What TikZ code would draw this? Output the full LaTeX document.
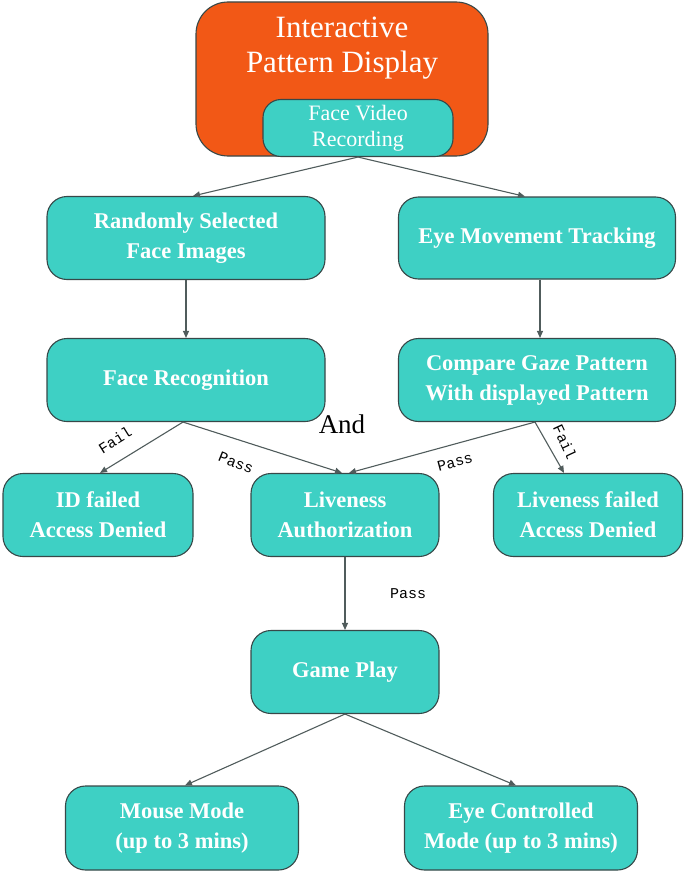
\documentclass[tikz,border=0pt]{standalone}
\usepackage{fontspec}
\setmainfont{Liberation Serif}
\newfontfamily\lblfont{Liberation Mono}
\usetikzlibrary{arrows.meta}
\definecolor{orangebox}{RGB}{242,88,22}
\definecolor{tealbox}{RGB}{62,208,196}
\definecolor{edgegray}{RGB}{55,72,72}
\definecolor{linegray}{RGB}{80,92,92}
\tikzset{
  box/.style={draw=edgegray, line width=1.1pt, fill=tealbox, rounded corners=20pt,
    align=center, text=white, font=\fontsize{22.5}{30}\selectfont\bfseries, inner sep=0pt},
  conn/.style={draw=linegray, line width=1.1pt, -{Triangle[length=7pt,width=6pt]}},
  lbl/.style={font=\lblfont\fontsize{15}{17}\selectfont, text=black, inner sep=0pt}
}
\begin{document}
\begin{tikzpicture}[x=1pt,y=-1pt]
\useasboundingbox (0,0) rectangle (685,875);
% top box
\node[draw=edgegray, line width=1.1pt, fill=orangebox, rounded corners=32pt,
  minimum width=292pt, minimum height=154pt, inner sep=0pt] (ipd) at (342,79) {};
\node[text=white, align=center, font=\fontsize{31}{35}\selectfont, inner sep=0pt] (ipdtext) at (342,48) {Interactive\\Pattern Display};
\node[box, font=\fontsize{22}{26}\selectfont, rounded corners=18pt,
  minimum width=190pt, minimum height=57pt] (fvr) at (358,128) {Face Video\\Recording};
% row 2
\node[box, minimum width=278pt, minimum height=83pt] (rs) at (186,238) {Randomly Selected\\Face Images};
\node[box, minimum width=277pt, minimum height=82pt] (emt) at (537,238) {Eye Movement Tracking};
% row 3
\node[box, minimum width=278pt, minimum height=83pt] (fr) at (186,380) {Face Recognition};
\node[box, minimum width=277pt, minimum height=83pt] (cg) at (537,380) {Compare Gaze Pattern\\With displayed Pattern};
% row 4
\node[box, minimum width=190pt, minimum height=83pt] (idf) at (98,515) {ID failed\\Access Denied};
\node[box, minimum width=188pt, minimum height=83pt] (la) at (345,515) {Liveness\\Authorization};
\node[box, minimum width=189pt, minimum height=83pt] (lf) at (588,515) {Liveness failed\\Access Denied};
% row 5
\node[box, minimum width=188pt, minimum height=83pt] (gp) at (345,672) {Game Play};
% row 6
\node[box, minimum width=233pt, minimum height=84pt] (mm) at (182,828) {Mouse Mode\\(up to 3 mins)};
\node[box, minimum width=233pt, minimum height=84pt] (ec) at (521,828) {Eye Controlled\\Mode (up to 3 mins)};
% connectors
\draw[conn] (fvr.south) -- ([xshift=7pt]rs.north);
\draw[conn] (fvr.south) -- ([xshift=-12pt]emt.north);
\draw[conn] (rs.south) -- (fr.north);
\draw[conn] ([xshift=3pt]emt.south) -- ([xshift=3pt]cg.north);
\draw[conn] ([xshift=-3pt]fr.south) -- ([xshift=2pt]idf.north);
\draw[conn] ([xshift=-3pt]fr.south) -- ([xshift=-3pt]la.north);
\draw[conn] ([xshift=-2pt]cg.south) -- ([xshift=4pt]la.north);
\draw[conn] ([xshift=-2pt]cg.south) -- ([xshift=-24pt]lf.north);
\draw[conn] (la.south) -- (gp.north);
\draw[conn] (gp.south) -- ([xshift=3pt]mm.north);
\draw[conn] (gp.south) -- ([xshift=-5pt]ec.north);
% labels
\node[font=\fontsize{27}{30}\selectfont, inner sep=0pt] (and) at (342,424) {And};
\node[lbl, rotate=32] (fail1) at (115,440) {Fail};
\node[lbl, rotate=-22] (pass1) at (236,463) {Pass};
\node[lbl, rotate=15] (pass2) at (455,462) {Pass};
\node[lbl, rotate=-65] (fail2) at (565,442) {Fail};
\node[lbl] (pass3) at (408,594) {Pass};
\end{tikzpicture}
\end{document}
